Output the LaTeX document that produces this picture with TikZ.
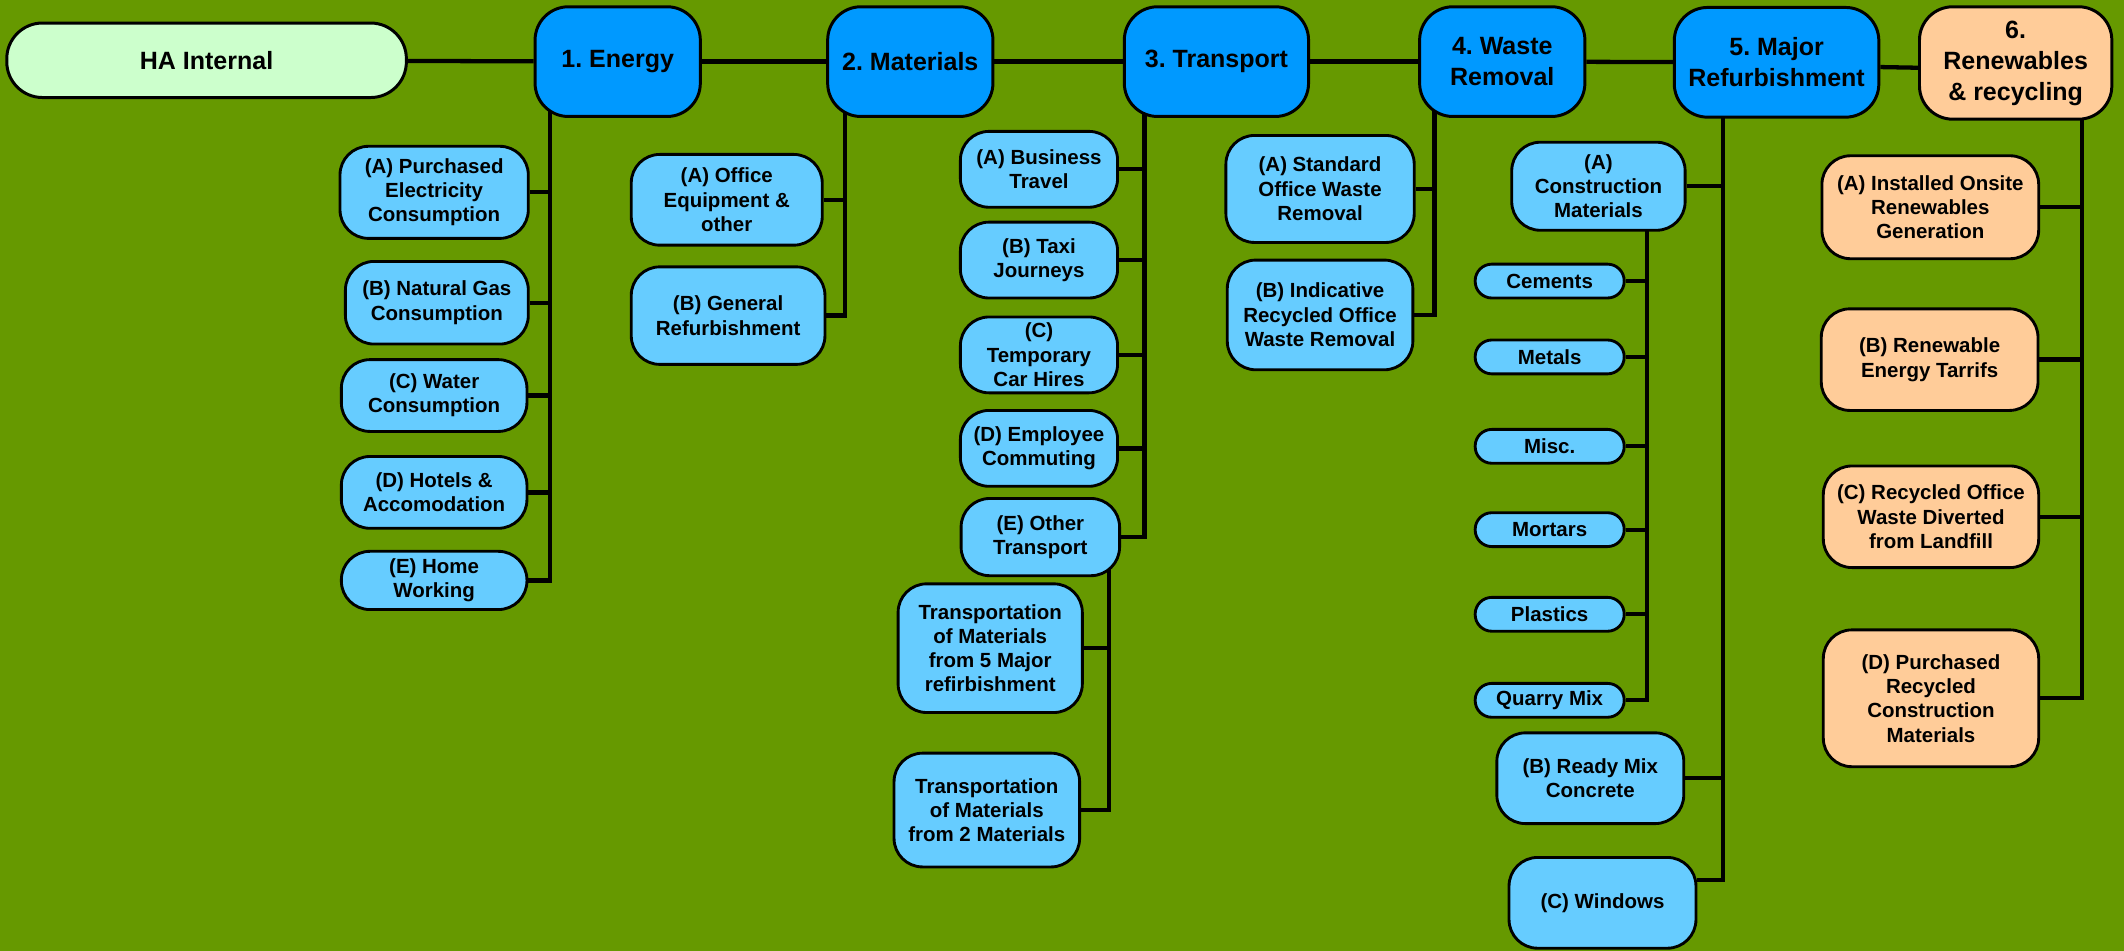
\documentclass[tikz,border=0pt]{standalone}
\usepackage{fontspec}
\setmainfont{Liberation Sans}
\usetikzlibrary{positioning,backgrounds}
\usepackage{xcolor}
\definecolor{haGreen}{HTML}{669900}
\definecolor{haHead}{HTML}{0099FF}
\definecolor{haLeaf}{HTML}{66CCFF}
\definecolor{haPeach}{HTML}{FFCC99}
\definecolor{haMint}{HTML}{CCFFCC}
\newcommand{\hahead}{\fontsize{10.5}{13}\selectfont\bfseries}
\newcommand{\haleaf}{\fontsize{8.6}{10.2}\selectfont\bfseries}
\frenchspacing
\tikzset{
    headbox/.style={
        draw=black,line width=1.25pt,rounded corners=14pt,fill=#1,
        align=center,font=\hahead,inner sep=2pt
    },
    headbox/.default=haHead,
    leafbox/.style={
        draw=black,line width=1.2pt,rounded corners=12pt,fill=#1,
        align=center,font=\haleaf,inner sep=2pt
    },
    leafbox/.default=haLeaf,
    pillbox/.style={
        leafbox,rounded corners=7pt,minimum width=2.2cm,minimum height=0.5cm
    },
    link/.style={line width=1.8pt,draw=black}
}

\begin{document}
\begin{tikzpicture}

% top row
\node[headbox=haMint,rounded corners=15pt,minimum width=5.9cm,minimum height=1.1cm]
(ha) at (3.05,-0.89){HA Internal};
\node[headbox,minimum width=2.44cm,minimum height=1.62cm]
(energy) at (9.12,-0.91){1. Energy};
\node[headbox,minimum width=2.44cm,minimum height=1.62cm]
(materials) at (13.44,-0.91){2. Materials};
\node[headbox,minimum width=2.72cm,minimum height=1.62cm]
(transport) at (17.96,-0.91){3. Transport};
\node[headbox,minimum width=2.44cm,minimum height=1.62cm]
(waste) at (22.18,-0.91){4. Waste\\Removal};
\node[headbox,minimum width=3.02cm,minimum height=1.62cm]
(major) at (26.23,-0.92){5. Major\\Refurbishment};
\node[headbox=haPeach,minimum width=2.84cm,minimum height=1.66cm]
(renew) at (29.76,-0.93){6.\\Renewables\\\& recycling};

% 1. energy
\node[leafbox,minimum width=2.78cm,minimum height=1.36cm]
(eA) at (6.41,-2.84){(A) Purchased\\Electricity\\Consumption};
\node[leafbox,minimum width=2.70cm,minimum height=1.22cm]
(eB) at (6.45,-4.47){(B) Natural Gas\\Consumption};
\node[leafbox,minimum width=2.74cm,minimum height=1.06cm]
(eC) at (6.41,-5.84){(C) Water\\Consumption};
\node[leafbox,minimum width=2.74cm,minimum height=1.06cm]
(eD) at (6.41,-7.27){(D) Hotels \&\\Accomodation};
\node[leafbox,minimum width=2.74cm,minimum height=0.86cm]
(eE) at (6.41,-8.57){(E) Home\\Working};

% 2. materials
\node[leafbox,minimum width=2.82cm,minimum height=1.34cm]
(mA) at (10.73,-2.95){(A) Office\\Equipment \&\\other};
\node[leafbox,minimum width=2.86cm,minimum height=1.44cm]
(mB) at (10.75,-4.66){(B) General\\Refurbishment};

% 3. transport
\node[leafbox,minimum width=2.32cm,minimum height=1.12cm]
(tA) at (15.34,-2.50){(A) Business\\Travel};
\node[leafbox,minimum width=2.32cm,minimum height=1.12cm]
(tB) at (15.34,-3.84){(B) Taxi\\Journeys};
\node[leafbox,minimum width=2.32cm,minimum height=1.12cm]
(tC) at (15.34,-5.24){(C)\\Temporary\\Car Hires};
\node[leafbox,minimum width=2.32cm,minimum height=1.12cm]
(tD) at (15.34,-6.62){(D) Employee\\Commuting};
\node[leafbox,minimum width=2.34cm,minimum height=1.14cm]
(tE) at (15.36,-7.93){(E) Other\\Transport};
\node[leafbox,minimum width=2.72cm,minimum height=1.90cm]
(tMaj) at (14.62,-9.57){Transportation\\of Materials\\from 5 Major\\refirbishment};
\node[leafbox,minimum width=2.74cm,minimum height=1.68cm]
(tMat) at (14.57,-11.96){Transportation\\of Materials\\from 2 Materials};

% 4. waste
\node[leafbox,minimum width=2.78cm,minimum height=1.58cm]
(wA) at (19.49,-2.79){(A) Standard\\Office Waste\\Removal};
\node[leafbox,minimum width=2.74cm,minimum height=1.62cm]
(wB) at (19.49,-4.65){(B) Indicative\\Recycled Office\\Waste Removal};

% 5. major refurbishment
\node[leafbox,minimum width=2.56cm,minimum height=1.30cm]
(jA) at (23.60,-2.75){(A)\\Construction\\Materials};
\node[pillbox] (pCem) at (22.88,-4.15){Cements};
\node[pillbox] (pMet) at (22.88,-5.27){Metals};
\node[pillbox] (pMisc) at (22.88,-6.59){Misc.};
\node[pillbox] (pMor) at (22.88,-7.82){Mortars};
\node[pillbox] (pPla) at (22.88,-9.07){Plastics};
\node[pillbox] (pQua) at (22.88,-10.34){Quarry Mix};
\node[leafbox,minimum width=2.76cm,minimum height=1.34cm]
(jB) at (23.48,-11.49){(B) Ready Mix\\Concrete};
\node[leafbox,minimum width=2.76cm,minimum height=1.34cm]
(jC) at (23.66,-13.33){(C) Windows};

% 6. renewables
\node[leafbox=haPeach,minimum width=3.20cm,minimum height=1.52cm]
(rA) at (28.50,-3.06){(A) Installed Onsite\\Renewables\\Generation};
\node[leafbox=haPeach,minimum width=3.20cm,minimum height=1.50cm]
(rB) at (28.49,-5.31){(B) Renewable\\Energy Tarrifs};
\node[leafbox=haPeach,minimum width=3.18cm,minimum height=1.50cm]
(rC) at (28.51,-7.63){(C) Recycled Office\\Waste Diverted\\from Landfill};
\node[leafbox=haPeach,minimum width=3.18cm,minimum height=2.02cm]
(rD) at (28.51,-10.31){(D) Purchased\\Recycled\\Construction\\Materials};

\begin{scope}[on background layer]
\fill[haGreen] (0,0) rectangle (31.36,-14.04);

\foreach \a/\b in {ha/energy,energy/materials,materials/transport,transport/waste,waste/major}
    \draw[link] (\a) -- (\b);
\draw[link] ([yshift=-2pt]major.east) -- ([yshift=-2pt]renew.west);

\coordinate (eTop) at ([xshift=0.24cm,yshift=0.3cm]energy.south west);
\draw[link] (eTop) |- (eE);
\foreach \c in {eA,eB,eC,eD}
    \draw[link] (\c.east) -- (\c.east -| eTop);

\coordinate (mTop) at ([xshift=0.28cm,yshift=0.3cm]materials.south west);
\draw[link] (mTop) |- (mB);
\draw[link] (mA.east) -- (mA.east -| mTop);

\coordinate (tTop) at ([xshift=0.32cm,yshift=0.3cm]transport.south west);
\draw[link] (tTop) |- (tE);
\foreach \c in {tA,tB,tC,tD}
    \draw[link] (\c.east) -- (\c.east -| tTop);
\coordinate (tSub) at ([xshift=-0.18cm,yshift=0.3cm]tE.south east);
\draw[link] (tSub) |- (tMat);
\draw[link] (tMaj.east) -- (tMaj.east -| tSub);

\coordinate (wTop) at ([xshift=0.24cm,yshift=0.3cm]waste.south west);
\draw[link] (wTop) |- (wB);
\draw[link] (wA.east) -- (wA.east -| wTop);

\coordinate (jTop) at ([xshift=0.74cm,yshift=0.3cm]major.south west);
\draw[link] (jTop) |- ([yshift=0.34cm]jC.east);
\foreach \c in {jA,jB}
    \draw[link] (\c.east) -- (\c.east -| jTop);
\coordinate (jSub) at ([xshift=-0.58cm,yshift=0.3cm]jA.south east);
\draw[link] (jSub) |- (pQua);
\foreach \c in {pCem,pMet,pMisc,pMor,pPla}
    \draw[link] (\c.east) -- (\c.east -| jSub);

\coordinate (rTop) at ([xshift=-0.46cm,yshift=0.3cm]renew.south east);
\draw[link] (rTop) |- (rD);
\foreach \c in {rA,rB,rC}
    \draw[link] (\c.east) -- (\c.east -| rTop);
\end{scope}

\end{tikzpicture}
\end{document}
